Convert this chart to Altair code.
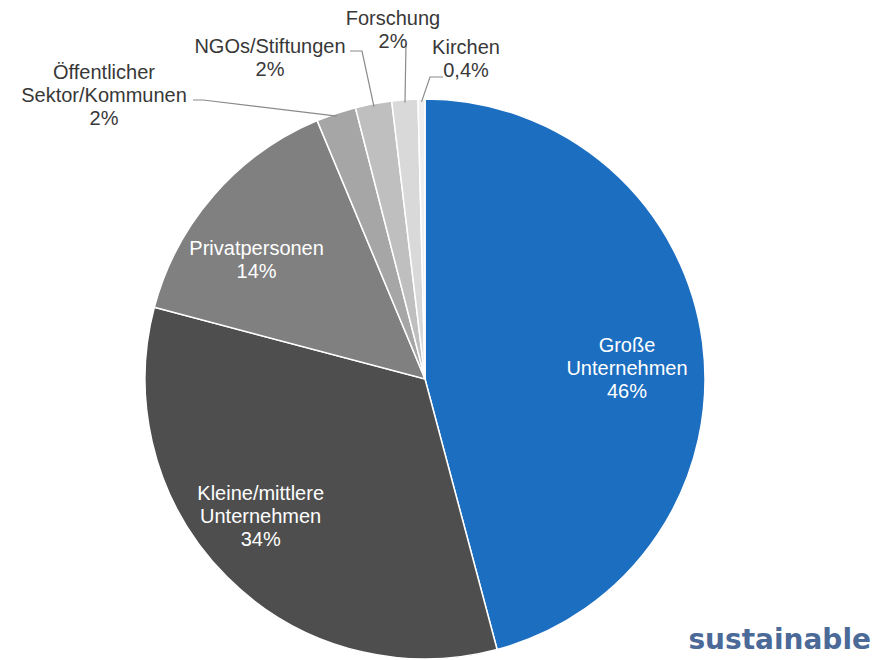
import math
import altair as alt
import pandas as pd

# ---- data ----
categories = ["Große Unternehmen", "Kleine/mittlere Unternehmen", "Privatpersonen",
              "Öffentlicher Sektor/Kommunen", "NGOs/Stiftungen", "Forschung", "Kirchen"]
values = [45.9, 33.3, 14.6, 2.3, 2.1, 1.5, 0.4]
label_texts = ["Große\nUnternehmen\n46%", "Kleine/mittlere\nUnternehmen\n34%",
               "Privatpersonen\n14%", "Öffentlicher\nSektor/Kommunen\n2%",
               "NGOs/Stiftungen\n2%", "Forschung\n2%", "Kirchen\n0,4%"]
colors = ["#1c6ec0", "#4e4e4e", "#808080", "#a6a6a6", "#bfbfbf", "#d9d9d9", "#efefef"]
inside = [True, True, True, False, False, False, False]

# ---- layout (pixels) ----
W, H = 885, 660
CX, CY, R = 425, 379, 280
LABEL_R = 0.76
LH = 23
inside_nudge = {"Große Unternehmen": (-9, 18), "Kleine/mittlere Unternehmen": (-14, -13),
                "Privatpersonen": (-8, 21)}
outside_text = {"Öffentlicher Sektor/Kommunen": (104, 96), "NGOs/Stiftungen": (270, 58),
                "Forschung": (393, 30), "Kirchen": (466, 59)}
outside_leader = {"Öffentlicher Sektor/Kommunen": [(203, 100), (193, 100)],
                  "NGOs/Stiftungen": [(362, 51), (350, 51)],
                  "Forschung": [(406, 43)],
                  "Kirchen": [(430, 77), (443, 77)]}

total = sum(values)
pie = pd.DataFrame({"cat": categories, "value": values, "order": range(len(categories))})

lab_rows, line_rows = [], []
cum = 0.0
for c, v, t, ins in zip(categories, values, label_texts, inside):
    mid = (cum + v / 2) / total * 2 * math.pi
    cum += v
    n = t.count("\n") + 1
    if ins:
        dx, dy = inside_nudge[c]
        x = CX + LABEL_R * R * math.sin(mid) + dx
        y = CY - LABEL_R * R * math.cos(mid) + dy
        kind = "in"
    else:
        x, y = outside_text[c]
        kind = "out"
        pts = [(CX + 0.99 * R * math.sin(mid), CY - 0.99 * R * math.cos(mid))] + outside_leader[c]
        for i, (px, py) in enumerate(pts):
            line_rows.append({"cat": c, "i": i, "x": px, "y": py})
    # first-line position so that the text block is centred on (x, y)
    lab_rows.append({"cat": c, "text": t, "x": x, "y": y - (n - 1) * LH / 2, "inside": kind})

labels = pd.DataFrame(lab_rows)
lines = pd.DataFrame(line_rows)

xs = alt.Scale(domain=[0, W], range=[0, W], nice=False, zero=False)
ys = alt.Scale(domain=[0, H], range=[0, H], nice=False, zero=False)

arcs = alt.Chart(pie).mark_arc(radius=R, stroke="white", strokeWidth=1.5).encode(
    theta=alt.Theta("value:Q", stack=True),
    order=alt.Order("order:Q"),
    color=alt.Color("cat:N", scale=alt.Scale(domain=categories, range=colors), legend=None),
    x=alt.value(CX), y=alt.value(CY),
)

leaders = alt.Chart(lines).mark_line(color="#8a8a8a", strokeWidth=1.2).encode(
    x=alt.X("x:Q", scale=xs, axis=None),
    y=alt.Y("y:Q", scale=ys, axis=None),
    detail="cat:N",
    order="i:Q",
)

text_in = alt.Chart(labels[labels.inside == "in"]).mark_text(
    font="Liberation Sans", fontSize=20, lineHeight=LH, color="white",
    align="center", baseline="middle", lineBreak="\n",
).encode(x=alt.X("x:Q", scale=xs, axis=None), y=alt.Y("y:Q", scale=ys, axis=None), text="text:N")

text_out = alt.Chart(labels[labels.inside == "out"]).mark_text(
    font="Liberation Sans", fontSize=20, lineHeight=LH, color="#383838",
    align="center", baseline="middle", lineBreak="\n",
).encode(x=alt.X("x:Q", scale=xs, axis=None), y=alt.Y("y:Q", scale=ys, axis=None), text="text:N")

logo = alt.Chart(pd.DataFrame({"t": ["sustainable"]})).mark_text(
    font="DejaVu Sans", fontWeight="bold", fontSize=28, color="#4b6a98",
    align="right", baseline="middle",
).encode(x=alt.value(871), y=alt.value(641), text="t:N")

chart = alt.layer(arcs, leaders, text_in, text_out, logo).properties(
    width=W, height=H, autosize="none", padding=0, background="white"
).configure_view(stroke=None)

chart.save("out.html", embed_options={"renderer": "svg", "actions": False})
